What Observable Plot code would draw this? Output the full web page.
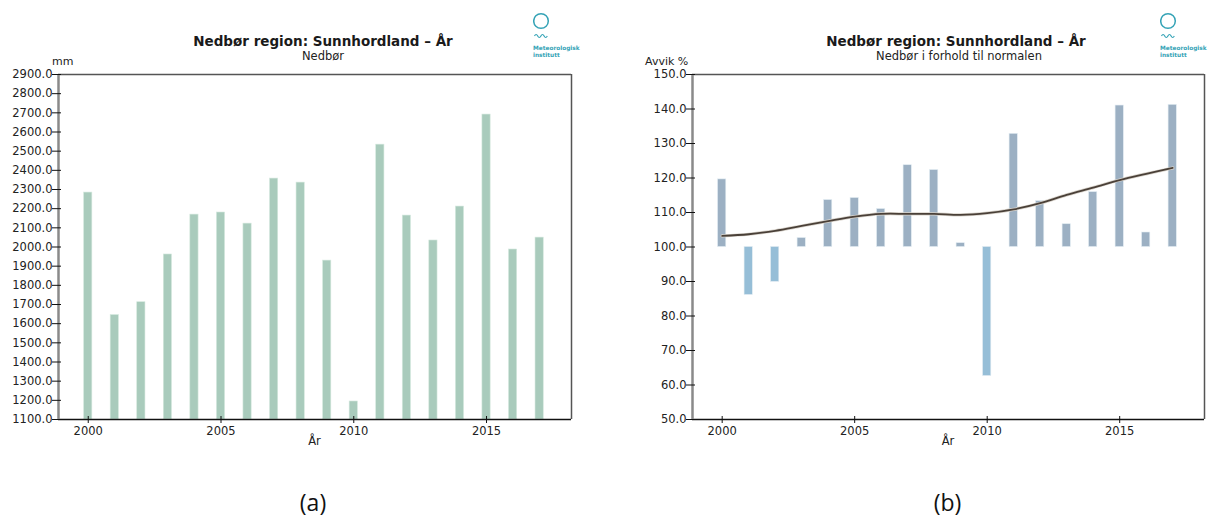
<!DOCTYPE html>
<html>
<head>
<meta charset="utf-8">
<script src="https://cdn.jsdelivr.net/npm/d3@7"></script>
<script src="https://cdn.jsdelivr.net/npm/@observablehq/plot@0.6"></script>
<style>
  html, body { margin: 0; padding: 0; background: #fff; }
  #page { position: relative; width: 1208px; height: 522px; overflow: hidden; font-family: "DejaVu Sans", sans-serif; color: #111; }
  .panel { position: absolute; top: 0; }
  .title { position: absolute; font-weight: bold; font-size: 13.5px; white-space: nowrap; transform: translateX(-50%); line-height: 1; color: #1a1a1a; }
  .sub { position: absolute; font-size: 11.5px; white-space: nowrap; transform: translateX(-50%); line-height: 1; color: #222; }
  .ylab { position: absolute; font-size: 11px; white-space: nowrap; line-height: 1; color: #222; }
  .xlab { position: absolute; font-size: 11.5px; white-space: nowrap; transform: translateX(-50%); line-height: 1; color: #222; }
  .cap { position: absolute; font-family: "Open Sans", "Noto Sans", sans-serif; font-size: 23px; transform: translateX(-50%); line-height: 1; color: #111; }
  .logo { position: absolute; width: 46px; height: 62px; }
  .logo .t { position: absolute; left: 0; font-size: 5.8px; font-weight: bold; color: #35a3b6; white-space: nowrap; line-height: 1; font-family: "DejaVu Sans", sans-serif; }
</style>
</head>
<body>
<div id="page">
  <div class="title" style="left:323px; top:35px;">Nedbør region: Sunnhordland – År</div>
  <div class="sub" style="left:323px; top:51px;">Nedbør</div>
  <div class="ylab" style="left:52px; top:56px;">mm</div>
  <div class="xlab" style="left:314.5px; top:436px;">År</div>
  <div class="cap" style="left:313px; top:491px;">(a)</div>

  <div class="title" style="left:956px; top:35px;">Nedbør region: Sunnhordland – År</div>
  <div class="sub" style="left:959px; top:51px;">Nedbør i forhold til normalen</div>
  <div class="ylab" style="left:645px; top:56px;">Avvik %</div>
  <div class="xlab" style="left:948px; top:436px;">År</div>
  <div class="cap" style="left:947.5px; top:491px;">(b)</div>

  <div id="panelA" class="panel" style="left:0px;"></div>
  <div id="panelB" class="panel" style="left:634px;"></div>
</div>
<script>
// ---- data ----
const years = [2000, 2001, 2002, 2003, 2004, 2005, 2006, 2007, 2008, 2009, 2010, 2011, 2012, 2013, 2014, 2015, 2016, 2017];
const precipMm = [2284, 1645, 1712, 1961, 2169, 2180, 2122, 2357, 2336, 1929, 1194, 2534, 2164, 2034, 2211, 2691, 1987, 2049];
const pctOfNormal = [119.6, 86.1, 89.9, 102.6, 113.6, 114.2, 111.0, 123.7, 122.3, 101.1, 62.6, 132.8, 113.3, 106.6, 115.9, 141.0, 104.2, 141.2];
const smoothedPct = [103.2, 103.7, 104.7, 106.1, 107.5, 108.8, 109.6, 109.6, 109.6, 109.3, 109.8, 110.9, 112.7, 115.1, 117.2, 119.4, 121.2, 122.9];
const xTicks = [2000, 2005, 2010, 2015];
const yTicksA = [1100, 1200, 1300, 1400, 1500, 1600, 1700, 1800, 1900, 2000, 2100, 2200, 2300, 2400, 2500, 2600, 2700, 2800, 2900];
const yTicksB = [50, 60, 70, 80, 90, 100, 110, 120, 130, 140, 150];

const xDomain = [1998.88, 2018.2];
const halfBar = 0.155;

const dataA = years.map((y, i) => ({year: y, value: precipMm[i]}));
const dataB = years.map((y, i) => ({year: y, value: pctOfNormal[i], smooth: smoothedPct[i]}));

function frameMarks(yDomain) {
  return [
    Plot.ruleY([yDomain[1]], {stroke: "#555", strokeWidth: 1.5}),
    Plot.ruleX([xDomain[1]], {stroke: "#555", strokeWidth: 1.5}),
    Plot.ruleY([yDomain[0]], {stroke: "#111", strokeWidth: 1.5}),
    Plot.ruleX([xDomain[0]], {stroke: "#8a8a8a", strokeWidth: 2.5})
  ];
}

const commonStyle = {fontFamily: "DejaVu Sans", fontSize: "11.5px", color: "#222", background: "transparent", overflow: "visible"};

const yDomA = [1100, 2900];
const chartA = Plot.plot({
  width: 604, height: 460,
  marginLeft: 58, marginRight: 33, marginTop: 74, marginBottom: 41,
  style: commonStyle,
  x: {domain: xDomain},
  y: {domain: yDomA},
  marks: [
    Plot.rectY(dataA, {x1: d => d.year - halfBar, x2: d => d.year + halfBar, y1: () => yDomA[0], y2: "value", fill: "#a9cbbc", stroke: "#d6e9df", strokeWidth: 0.6}),
    ...frameMarks(yDomA),
    Plot.axisY({ticks: yTicksA, tickFormat: d3.format(".1f"), tickSize: 9, dx: 3, tickPadding: 0, label: null, stroke: "#111"}),
    Plot.axisX({ticks: xTicks, tickFormat: d => String(d), tickSize: 7, dy: -3, tickPadding: 3, label: null, stroke: "#111"})
  ]
});
document.getElementById("panelA").appendChild(chartA);

const yDomB = [50, 150];
const chartB = Plot.plot({
  width: 574, height: 460,
  marginLeft: 58, marginRight: 4, marginTop: 74, marginBottom: 41,
  style: commonStyle,
  x: {domain: xDomain},
  y: {domain: yDomB},
  marks: [
    Plot.rectY(dataB, {x1: d => d.year - halfBar, x2: d => d.year + halfBar, y1: () => 100, y2: "value",
      fill: d => d.value >= 100 ? "#9cb0c3" : "#96bed7", stroke: "#e2ecf2", strokeWidth: 0.6}),
    Plot.line(dataB, {x: "year", y: "smooth", curve: "catmull-rom", stroke: "#d9d4cc", strokeWidth: 3.2}),
    Plot.line(dataB, {x: "year", y: "smooth", curve: "catmull-rom", stroke: "#4a4038", strokeWidth: 1.8}),
    ...frameMarks(yDomB),
    Plot.axisY({ticks: yTicksB, tickFormat: d3.format(".1f"), tickSize: 9, dx: 3, tickPadding: 0, label: null, stroke: "#111"}),
    Plot.axisX({ticks: xTicks, tickFormat: d => String(d), tickSize: 7, dy: -3, tickPadding: 3, label: null, stroke: "#111"})
  ]
});
document.getElementById("panelB").appendChild(chartB);

// logos (decoration)
function addLogo(left) {
  const div = document.createElement("div");
  div.className = "logo";
  div.style.left = left + "px";
  div.style.top = "0px";
  div.innerHTML = `<svg width="46" height="40" style="position:absolute;left:0;top:0">
      <circle cx="8" cy="21" r="7.3" fill="none" stroke="#35a3b6" stroke-width="1.5"/>
      <path d="M1.5 36 q1.6 -3 3.2 0 t3.2 0 t3.2 0 t3.2 0" fill="none" stroke="#35a3b6" stroke-width="1.2"/>
    </svg>
    <div class="t" style="top:46px">Meteorologisk</div>
    <div class="t" style="top:53px">institutt</div>`;
  document.getElementById("page").appendChild(div);
}
addLogo(533);
addLogo(1160);
</script>
</body>
</html>
